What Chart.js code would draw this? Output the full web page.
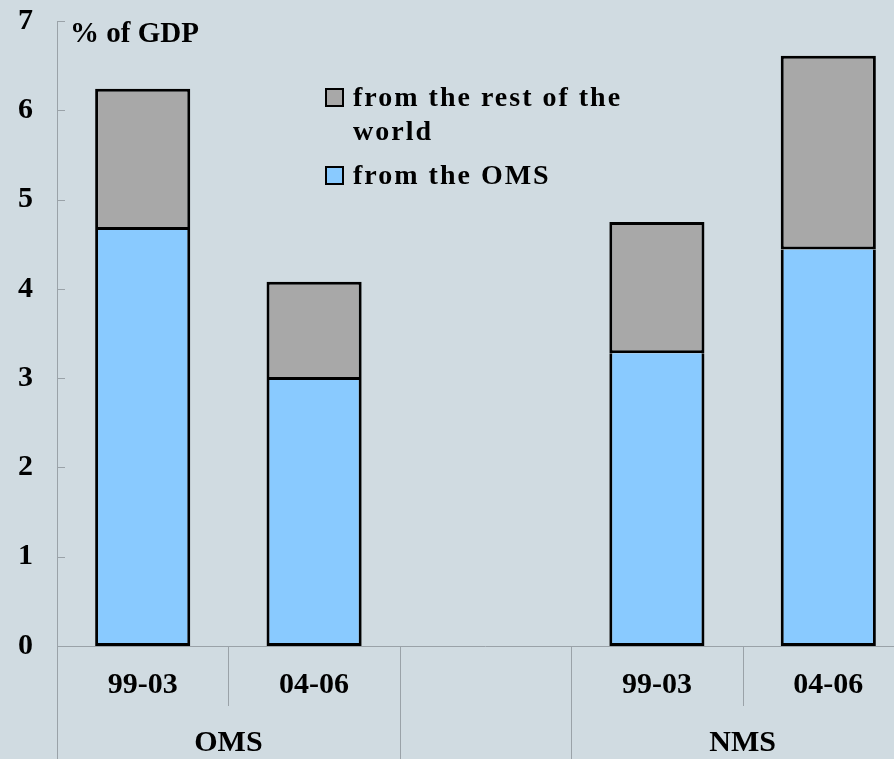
<!DOCTYPE html>
<html>
<head>
<meta charset="utf-8">
<script src="https://cdn.jsdelivr.net/npm/chart.js@4"></script>
<style>
  html, body { margin: 0; padding: 0; overflow: hidden; background: #d0dbe1; }
  #wrap { width: 920px; height: 759px; position: relative; }
</style>
</head>
<body>
<div id="wrap"><canvas id="chart"></canvas></div>
<script>
        const periods = ['99-03', '04-06', '', '99-03', '04-06'];
        const groups = ['OMS', 'OMS', '', 'NMS', 'NMS'];
        const fromOMS = [4.66, 2.98, null, 3.28, 4.44];
        const fromRest = [1.58, 1.10, null, 1.47, 2.17];
        const seriesNames = ['from the OMS', 'from the rest of the world'];
        const yTicks = [0, 1, 2, 3, 4, 5, 6, 7];

        const FONT = "'Liberation Serif', 'Times New Roman', serif";
        const AXIS = '#9aa2a8';
        const colors = ['#89caff', '#a8a8a8'];

        // axis lines, inner ticks, group separators and labels, legend
        const extras = {
            id: 'extras',
            afterDraw(chart) {
                const ctx = chart.ctx;
                const area = chart.chartArea;
                const x = chart.scales.x;
                const y = chart.scales.y;
                const H = chart.height;
                ctx.save();
                ctx.strokeStyle = AXIS;
                ctx.lineWidth = 1;

                ctx.beginPath();
                ctx.moveTo(area.left + 0.5, y.getPixelForValue(7));
                ctx.lineTo(area.left + 0.5, H);
                ctx.moveTo(area.left, y.getPixelForValue(0) + 0.5);
                ctx.lineTo(area.right, y.getPixelForValue(0) + 0.5);
                yTicks.slice(1).forEach(v => {
                    const py = Math.round(y.getPixelForValue(v)) + 0.5;
                    ctx.moveTo(area.left, py);
                    ctx.lineTo(area.left + 8, py);
                });
                for (let i = 0; i < periods.length - 1; i++) {
                    const bx = Math.round((x.getPixelForValue(i) + x.getPixelForValue(i + 1)) / 2) + 0.5;
                    const end = groups[i] === groups[i + 1] ? area.bottom + 60 : H;
                    ctx.moveTo(bx, area.bottom);
                    ctx.lineTo(bx, end);
                }
                ctx.stroke();

                // group labels
                ctx.fillStyle = '#000';
                ctx.font = 'bold 30px ' + FONT;
                ctx.textAlign = 'center';
                ctx.textBaseline = 'middle';
                const seen = {};
                groups.forEach((g, i) => {
                    if (!g) return;
                    if (!seen[g]) seen[g] = [];
                    seen[g].push(x.getPixelForValue(i));
                });
                Object.keys(seen).forEach(g => {
                    const xs = seen[g];
                    const cx = (xs[0] + xs[xs.length - 1]) / 2;
                    ctx.fillText(g, cx, area.bottom + 97);
                });

                // unit label
                ctx.textAlign = 'left';
                ctx.textBaseline = 'alphabetic';
                ctx.font = 'bold 29px ' + FONT;
                ctx.fillText('% of GDP', area.left + 13, 42);

                // legend
                ctx.font = 'bold 28px ' + FONT;
                ctx.letterSpacing = '2px';
                const lx = 326, tx = 353;
                const rows = [
                    { c: colors[1], lines: ['from the rest of the', 'world'], base: 106 },
                    { c: colors[0], lines: ['from the OMS'], base: 184 }
                ];
                rows.forEach(r => {
                    ctx.fillStyle = r.c;
                    ctx.fillRect(lx, r.base - 17, 17, 17);
                    ctx.strokeStyle = '#000';
                    ctx.lineWidth = 2;
                    ctx.strokeRect(lx, r.base - 17, 17, 17);
                    ctx.fillStyle = '#000';
                    r.lines.forEach((t, k) => ctx.fillText(t, tx, r.base + k * 34));
                });
                ctx.restore();
            }
        };

        new Chart(document.getElementById('chart'), {
            type: 'bar',
            data: {
                labels: periods,
                datasets: [
                    { label: seriesNames[0], data: fromOMS, backgroundColor: colors[0], borderColor: '#000', borderWidth: 3, borderSkipped: 'end' },
                    { label: seriesNames[1], data: fromRest, backgroundColor: colors[1], borderColor: '#000', borderWidth: 3, borderSkipped: false }
                ]
            },
            options: {
                responsive: true,
                maintainAspectRatio: false,
                animation: false,
                layout: { padding: { top: 0, right: 6, left: 0, bottom: 0 } },
                datasets: { bar: { categoryPercentage: 1, barPercentage: 0.555 } },
                plugins: { legend: { display: false }, tooltip: { enabled: false } },
                scales: {
                    x: {
                        stacked: true,
                        grid: { display: false, drawTicks: false },
                        border: { display: false },
                        ticks: { color: '#000', font: { family: FONT, size: 30, weight: 'bold' }, padding: 21, maxRotation: 0, autoSkip: false },
                        afterFit(scale) { scale.height = 113; }
                    },
                    y: {
                        stacked: true,
                        min: 0,
                        max: 7,
                        grid: { display: false, drawTicks: false },
                        border: { display: false },
                        ticks: { stepSize: 1, color: '#000', font: { family: FONT, size: 30, weight: 'bold' }, padding: 24 },
                        afterFit(scale) {
                            scale.width = 57;
                            scale.paddingTop = 21;
                            scale.paddingBottom = 0;
                        }
                    }
                }
            },
            plugins: [extras]
        });
</script>
</body>
</html>
